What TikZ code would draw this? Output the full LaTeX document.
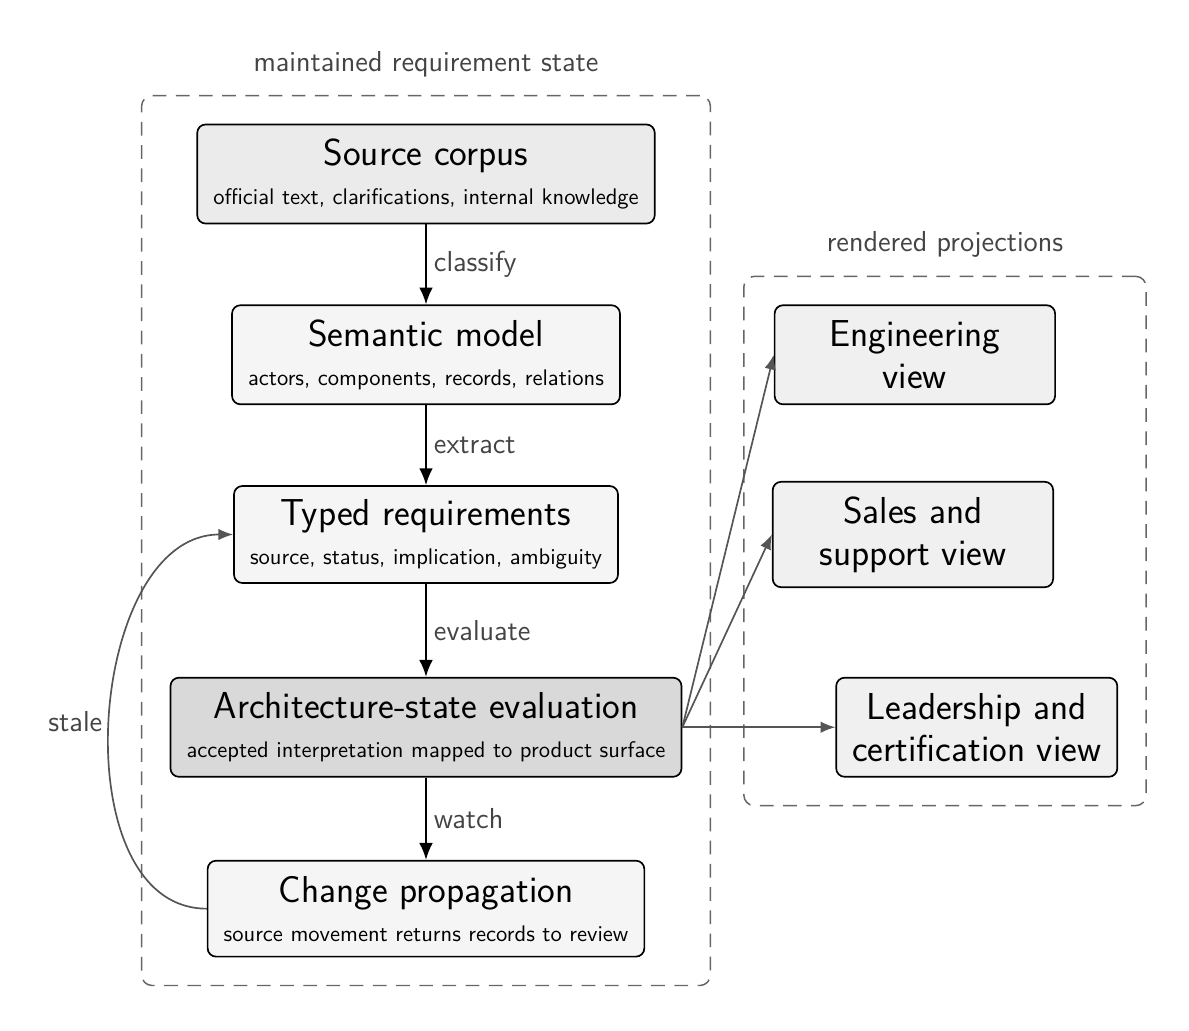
\documentclass[tikz,border=0pt]{standalone}
\usepackage{tikz}
\usetikzlibrary{arrows.meta,positioning,fit,backgrounds}
\renewcommand{\familydefault}{\sfdefault}
\definecolor{csource}{HTML}{EBEBEB}
\definecolor{csoft}{HTML}{F5F5F5}
\definecolor{ceval}{HTML}{D9D9D9}
\definecolor{cview}{HTML}{F0F0F0}
\definecolor{cline}{HTML}{555555}
\definecolor{clabel}{HTML}{444444}
\definecolor{cframe}{HTML}{666666}
\newcommand{\detailfont}{\fontsize{10.7}{12}\selectfont}

\begin{document}
\begin{tikzpicture}[
  node distance=1.333cm and 2.55cm,
  stage/.style={rectangle, rounded corners=4pt, draw=black, line width=0.8pt, fill=csoft,
                inner xsep=7.6pt, minimum height=47pt, align=center,
                font=\fontsize{17.8}{20}\selectfont},
  view/.style={stage, fill=cview, minimum width=133pt},
  arr/.style={-{Latex[length=8pt,width=6.5pt]}, line width=0.9pt, draw=black},
  proj/.style={-{Latex[length=7pt,width=5.5pt]}, line width=0.8pt, draw=cline},
  lbl/.style={font=\fontsize{13.7}{16}\selectfont, text=clabel},
  frame/.style={draw=cframe, line width=0.7pt, dash pattern=on 6.5pt off 4.5pt,
                rounded corners=5pt, inner sep=0.467cm}
]
\path[use as bounding box] (0,0) rectangle (19.817,-17.183);

% Maintained state
\node[stage, fill=csource] (src) at (7.1,-2.9)
   {Source corpus\\[-1.5pt]\detailfont official text, clarifications, internal knowledge};
\node[stage, below=of src] (sem)
   {Semantic model\\[-1.5pt]\detailfont actors, components, records, relations};
\node[stage, below=of sem, minimum height=46pt] (req)
   {Typed requirements\\[-1.5pt]\detailfont source, status, implication, ambiguity};
\node[stage, fill=ceval, below=1.55cm of req] (eval)
   {Architecture-state evaluation\\[-1.5pt]\detailfont accepted interpretation mapped to product surface};
\node[stage, below=1.37cm of eval, minimum height=45.5pt] (chg)
   {Change propagation\\[-1.5pt]\detailfont source movement returns records to review};

% Projections
\node[view, right=of sem] (eng) {Engineering\\view};
\node[view, right=of req, minimum height=50pt] (sales) {Sales and\\support view};
\node[view, right=of eval] (lead) {Leadership and\\certification view};

% Pipeline
\draw[arr] (src) -- node[lbl, right]{classify} (sem);
\draw[arr] (sem) -- node[lbl, right]{extract} (req);
\draw[arr] (req) -- node[lbl, right]{evaluate} (eval);
\draw[arr] (eval) -- node[lbl, right]{watch} (chg);

% Rendering and feedback
\draw[proj] (eval.east) -- (eng.west);
\draw[proj] (eval.east) -- (sales.west);
\draw[proj] (eval.east) -- (lead.west);
\draw[proj] (chg.west) to[out=180, in=180] node[lbl, left]{stale} (req.west);

\begin{scope}[on background layer]
  \node[frame, fit=(src)(sem)(req)(eval)(chg),
        label={[lbl, label distance=5pt]above:maintained requirement state}] (state) {};
  \node[frame, fit=(eng)(sales)(lead),
        label={[lbl, label distance=5pt]above:rendered projections}] (views) {};
\end{scope}

\end{tikzpicture}
\end{document}
